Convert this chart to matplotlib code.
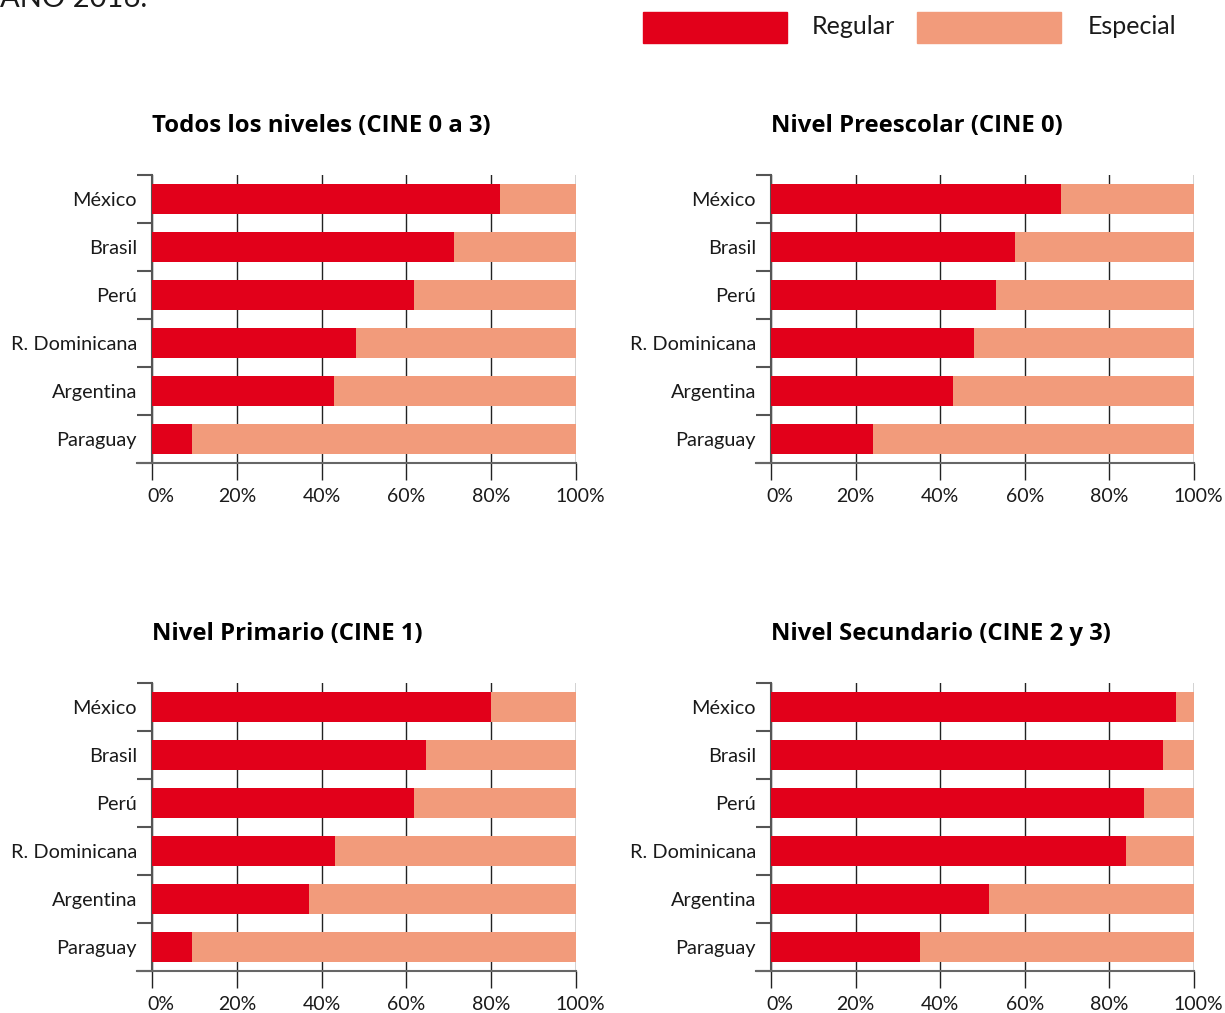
import matplotlib
matplotlib.use("Agg")
import matplotlib.pyplot as plt
import matplotlib.transforms as mtransforms
from matplotlib.patches import Rectangle
from matplotlib.ticker import FixedLocator

# Datos (porcentaje de matrícula por tipo de escuela)
paises = ['México', 'Brasil', 'Perú', 'R. Dominicana', 'Argentina', 'Paraguay']

todos_regular = [82, 71.3, 61.7, 48, 43, 9.5]
todos_especial = [18, 28.7, 38.3, 52, 57, 90.5]

preescolar_regular = [68.6, 57.7, 53.2, 47.9, 43, 24.1]
preescolar_especial = [31.4, 42.3, 46.8, 52.1, 57, 75.9]

primario_regular = [80, 64.6, 61.7, 43.1, 37.1, 9.5]
primario_especial = [20, 35.4, 38.3, 56.9, 62.9, 90.5]

secundario_regular = [95.8, 92.7, 88.2, 83.9, 51.5, 35.3]
secundario_especial = [4.2, 7.3, 11.8, 16.1, 48.5, 64.7]

titulos = ['Todos los niveles (CINE 0 a 3)', 'Nivel Preescolar (CINE 0)',
           'Nivel Primario (CINE 1)', 'Nivel Secundario (CINE 2 y 3)']
series = [(todos_regular, todos_especial),
          (preescolar_regular, preescolar_especial),
          (primario_regular, primario_especial),
          (secundario_regular, secundario_especial)]

ticks_x = [0, 20, 40, 60, 80, 100]
ticks_x_labels = ['0%', '20%', '40%', '60%', '80%', '100%']

ROJO = '#E2001A'
SALMON = '#F29B7B'
TEXTO = '#1a1a1a'

W, H = 1225, 1013
plt.rcParams['font.family'] = ['Lato', 'DejaVu Sans']

fig = plt.figure(figsize=(W / 100, H / 100), dpi=100)

# posiciones de los paneles en pixeles (left, top, width, height)
paneles = [(152, 175, 424, 288), (771, 175, 423, 288),
           (152, 683, 424, 288), (771, 683, 423, 288)]

px = 72 / 100  # pixel -> puntos

for (left, top, w, h), titulo, (reg, esp) in zip(paneles, titulos, series):
    ax = fig.add_axes([left / W, 1 - (top + h) / H, w / W, h / H])
    y = list(range(len(paises)))
    ax.barh(y, reg, height=0.63, color=ROJO, zorder=3)
    ax.barh(y, esp, left=reg, height=0.63, color=SALMON, zorder=3)

    ax.set_xlim(0, 100)
    ax.set_ylim(len(paises) - 0.5, -0.5)

    ax.set_xticks(ticks_x)
    ax.set_xticklabels(ticks_x_labels, fontsize=14, color=TEXTO)
    ax.set_yticks(y)
    ax.set_yticklabels(paises, fontsize=14.3, color=TEXTO)
    ax.yaxis.set_minor_locator(FixedLocator([i - 0.5 for i in range(len(paises) + 1)]))

    ax.tick_params(axis='x', length=17 * px, width=1, color='#222222', pad=8 * px)
    ax.tick_params(axis='y', which='major', length=0, pad=15 * px)
    ax.tick_params(axis='y', which='minor', length=15 * px, width=1.5, color='#555555')

    ax.xaxis.grid(True, color='#222222', lw=1)
    ax.set_axisbelow(True)

    for s in ['top', 'right']:
        ax.spines[s].set_visible(False)
    ax.spines['left'].set_color('#555555')
    ax.spines['left'].set_linewidth(1.5)
    ax.spines['bottom'].set_color('#666666')
    ax.spines['bottom'].set_linewidth(1.5)
    ax.spines['bottom'].set_bounds(-3.5, 100)

    # pequeños desplazamientos de las etiquetas extremas
    offs = [9, 0, 0, 0, 0, 4]
    for lab, o in zip(ax.get_xticklabels(), offs):
        if o:
            lab.set_transform(lab.get_transform() +
                              mtransforms.ScaledTranslation(o / 100, 0, fig.dpi_scale_trans))

    fig.text(left / W, 1 - (top - 49) / H, titulo, fontsize=17.2, fontweight='bold',
             family=['Open Sans', 'DejaVu Sans'], color='black', ha='left', va='center')

# leyenda manual
fig.patches.append(Rectangle((643 / W, 1 - 43 / H), 144 / W, 31 / H,
                             transform=fig.transFigure, color=ROJO))
fig.patches.append(Rectangle((917 / W, 1 - 43 / H), 144 / W, 31 / H,
                             transform=fig.transFigure, color=SALMON))
fig.text(812 / W, 1 - 26 / H, 'Regular', fontsize=18, color=TEXTO, ha='left', va='center')
fig.text(1088 / W, 1 - 26 / H, 'Especial', fontsize=18, color=TEXTO, ha='left', va='center')

# texto cortado del encabezado
fig.text(0 / W, 1 - 7 / H, 'AÑO 2016.', fontsize=21, color=TEXTO, ha='left', va='baseline')

fig.savefig('out.png', dpi=100)
